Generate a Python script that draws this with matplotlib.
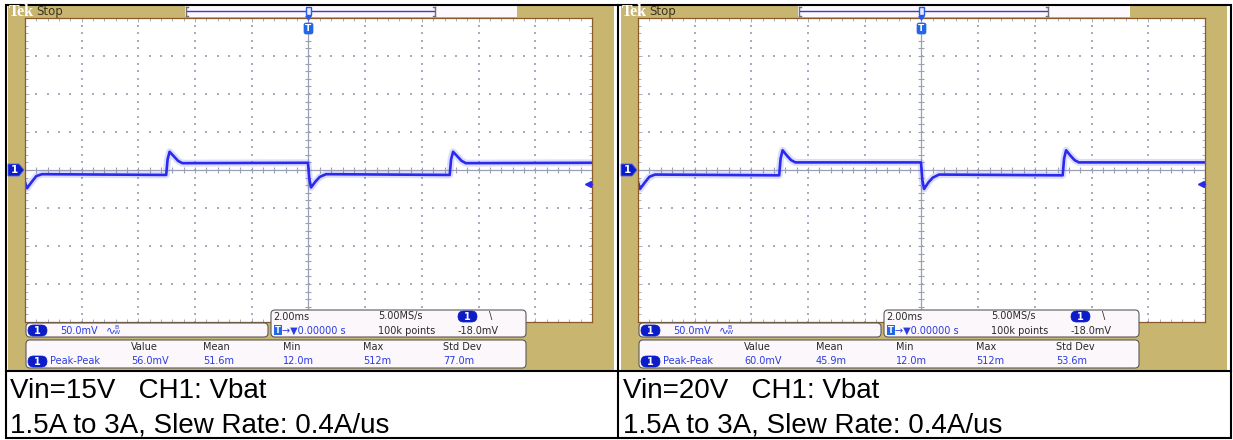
import matplotlib
matplotlib.use("Agg")
import matplotlib.pyplot as plt
from matplotlib.patches import Rectangle, FancyBboxPatch, Polygon
import numpy as np

# scope captures: CH1 Vbat, load step 1.5A <-> 3A, 2ms/div, 50mV/div
t_ms = [-10.0, -9.93, -9.75, -9.6, -9.4, -5.02, -4.97, -4.9, -4.75, -4.6, -4.45,
        -0.02, 0.03, 0.09, 0.25, 0.4, 0.62, 4.98, 5.03, 5.1, 5.25, 5.4, 5.55, 10.0]
vbat_15v = [-16, -24, -15, -8, -5.5, -6.5, 14, 24, 18, 12, 9, 9.5,
            -12, -23, -15, -9, -5.5, -6.5, 14, 24, 18, 12, 9, 9.5]
vbat_20v = [-16, -25, -16, -9, -6, -7, 15, 26, 19, 13, 10, 10,
            -13, -25, -16, -10, -6, -7, 15, 26, 19, 13, 10, 10]

captions_15v = ["Vin=15V   CH1: Vbat", "1.5A to 3A, Slew Rate: 0.4A/us"]
captions_20v = ["Vin=20V   CH1: Vbat", "1.5A to 3A, Slew Rate: 0.4A/us"]

meas_labels = ["Value", "Mean", "Min", "Max", "Std Dev"]
meas_15v = ["56.0mV", "51.6m", "12.0m", "512m", "77.0m"]
meas_20v = ["60.0mV", "45.9m", "12.0m", "512m", "53.6m"]

volts_div = "50.0mV"
time_div = "2.00ms"
sample_rate = "5.00MS/s"
rec_len = "100k points"
trig_pos = "0.00000 s"
trig_level = -18.0

W, H = 1233, 440
TAN = "#C8B570"
BLUE = "#2A2AEE"
DKBLUE = "#0C1CC8"
TXTBLUE = "#2A3CE0"
DARK = "#2A2A2A"
GRIDC = "#A8ACC0"
SCOPE_FONT = "DejaVu Sans"

fig = plt.figure(figsize=(W / 100, H / 100), dpi=100)

bg = fig.add_axes([0, 0, 1, 1], zorder=0)
bg.set_xlim(0, W)
bg.set_ylim(H, 0)
bg.axis("off")

fg = fig.add_axes([0, 0, 1, 1], zorder=3)
fg.set_xlim(0, W)
fg.set_ylim(H, 0)
fg.axis("off")
fg.patch.set_visible(False)


def to_px(ax, x, y):
    X, Y = ax.transData.transform((x, y))
    return X, H - Y


def rbox(x, y, w, h, r=4, fc="#FBF7FB", ec="#5A5A5A", lw=0.8):
    fg.add_patch(FancyBboxPatch((x, y), w, h, boxstyle=f"round,pad=0,rounding_size={r}",
                                fc=fc, ec=ec, lw=lw))


def oval1(x, yc):
    fg.add_patch(FancyBboxPatch((x, yc - 5.5), 19, 11, boxstyle="round,pad=0,rounding_size=5.5",
                                fc=DKBLUE, ec=DKBLUE, lw=0.5))
    fg.text(x + 9.5, yc + 0.5, "1", color="white", fontsize=7, fontweight="bold",
            ha="center", va="center", family=SCOPE_FONT)


def stxt(x, y, s, c=DARK, size=7):
    fg.text(x, y, s, color=c, fontsize=size, ha="left", va="center", family=SCOPE_FONT)


def panel(ox, vals, meas, caps):
    # tan frame and top status strip
    bg.add_patch(Rectangle((8 + ox, 6), 606, 364, fc=TAN, ec="none"))
    bg.add_patch(Rectangle((185 + ox, 6), 332, 11, fc="#FCF8FC", ec="none"))
    for bx, d in [(186, 1), (435, -1)]:
        bg.plot([bx + ox, bx + ox], [7, 16], color="#707070", lw=1)
        bg.plot([bx + ox, bx + ox + 2 * d], [7, 7], color="#707070", lw=1)
        bg.plot([bx + ox, bx + ox + 2 * d], [16, 16], color="#707070", lw=1)
    bg.plot([187 + ox, 434 + ox], [11.5, 11.5], color="#3A3AE0", lw=1)
    bg.text(9 + ox, 12.5, "Tek", color="white", fontsize=11.5, fontweight="bold",
            ha="left", va="center", family="Liberation Serif")
    bg.text(36 + ox, 12, "Stop", color="#3A3420", fontsize=8.5, ha="left", va="center",
            family=SCOPE_FONT)

    # graticule
    ax = fig.add_axes([(25 + ox) / W, 1 - 322 / H, 567 / W, 304 / H], zorder=1)
    ax.set_xlim(-10, 10)
    ax.set_ylim(-200, 200)
    ax.set_facecolor("white")
    for s in ax.spines.values():
        s.set_color("#8B5A2B")
        s.set_linewidth(0.9)
    ax.set_xticks(np.arange(-10, 11, 2))
    ax.set_yticks(np.arange(-200, 201, 50))
    ax.set_xticks(np.arange(-10, 10.01, 0.4), minor=True)
    ax.set_yticks(np.arange(-200, 201, 10), minor=True)
    ax.tick_params(which="both", direction="in", top=True, right=True, color=GRIDC,
                   labelbottom=False, labelleft=False, width=0.7)
    ax.tick_params(which="major", length=3)
    ax.tick_params(which="minor", length=2)

    xmin = np.arange(-10, 10.01, 0.4)
    ymin = np.arange(-200, 201, 10)
    for gx in np.arange(-8, 9, 2):
        if gx != 0:
            ax.scatter(np.full(len(ymin), gx), ymin, s=0.7, marker="s", color=GRIDC, lw=0)
    for gy in np.arange(-150, 151, 50):
        if gy != 0:
            ax.scatter(xmin, np.full(len(xmin), gy), s=0.7, marker="s", color=GRIDC, lw=0)
    ax.axhline(0, color="#9AA0B4", lw=0.9)
    ax.axvline(0, color="#9AA0B4", lw=0.9)
    ax.plot(xmin, np.zeros(len(xmin)), ls="none", marker="|", ms=4, mew=0.8, color="#9AA0B4")
    ax.plot(np.zeros(len(ymin)), ymin, ls="none", marker="_", ms=4, mew=0.8, color="#9AA0B4")

    # CH1 trace (noise band + core)
    ax.plot(t_ms, vals, color="#6060FF", lw=5.0, alpha=0.22, solid_joinstyle="round")
    ax.plot(t_ms, vals, color=BLUE, lw=1.9, solid_joinstyle="round")

    # channel ground marker
    gx0, gy0 = to_px(ax, -10, 0)
    fg.add_patch(Polygon([(ox + 8, gy0 - 6), (ox + 19, gy0 - 6), (gx0 - 1, gy0),
                          (ox + 19, gy0 + 6), (ox + 8, gy0 + 6)],
                         closed=True, fc=DKBLUE, ec="#5060E8", lw=0.6))
    fg.text(ox + 14, gy0 + 0.5, "1", color="white", fontsize=7.5, fontweight="bold",
            ha="center", va="center", family=SCOPE_FONT)

    # trigger level marker on right edge
    tx, ty = to_px(ax, 10, trig_level)
    fg.plot([tx - 5, tx], [ty, ty], color=BLUE, lw=1)
    fg.plot([tx - 4], [ty], marker="<", ms=5, color=BLUE, mec=BLUE)

    # trigger position marker at top
    px0, _ = to_px(ax, 0, 0)
    fg.add_patch(Rectangle((px0 - 2.5, 7), 5, 8, fc="#E8ECFF", ec="#2A5AE8", lw=1))
    fg.add_patch(Polygon([(px0 - 3.5, 16), (px0 + 3.5, 16), (px0, 21)], closed=True,
                         fc="#2A5AE8", ec="none"))
    fg.add_patch(FancyBboxPatch((px0 - 4.5, 23), 9, 11, boxstyle="round,pad=0,rounding_size=2",
                                fc="#2366E6", ec="#2366E6", lw=0.5))
    fg.text(px0, 28.8, "T", color="white", fontsize=6.5, fontweight="bold", ha="center",
            va="center", family=SCOPE_FONT)

    # readout boxes
    rbox(26 + ox, 323, 242, 14)
    rbox(271 + ox, 310, 255, 27)
    rbox(26 + ox, 340, 500, 28)

    oval1(28 + ox, 330.5)
    stxt(60 + ox, 330.5, volts_div, TXTBLUE)
    stxt(106 + ox, 330.5, "\u223f", TXTBLUE, 8)
    fg.text(114 + ox, 327.5, "B", color=TXTBLUE, fontsize=4.5, ha="left", va="center",
            family=SCOPE_FONT)
    fg.text(114 + ox, 332.5, "W", color=TXTBLUE, fontsize=4.5, ha="left", va="center",
            family=SCOPE_FONT)

    stxt(273 + ox, 316.5, time_div)
    stxt(378 + ox, 316.5, sample_rate)
    oval1(458 + ox, 316.5)
    stxt(489 + ox, 316.5, "\\")
    fg.add_patch(Rectangle((273.5 + ox, 325.5), 8, 10, fc="#2366E6", ec="none"))
    fg.text(277.5 + ox, 330.8, "T", color="white", fontsize=6, fontweight="bold",
            ha="center", va="center", family=SCOPE_FONT)
    stxt(282 + ox, 330.5, "\u2192\u25bc" + trig_pos, TXTBLUE)
    stxt(378 + ox, 330.5, rec_len)
    stxt(458 + ox, 330.5, f"{trig_level:.1f}mV")

    oval1(28 + ox, 361.5)
    stxt(50 + ox, 361.5, "Peak-Peak", TXTBLUE)
    for lx, lab, val in zip([131, 203, 283, 363, 443], meas_labels, meas):
        stxt(lx + ox, 347.5, lab)
        stxt(lx + ox, 361.5, val, TXTBLUE)

    # captions
    bg.text(10 + ox, 398, caps[0], fontsize=20, family="Liberation Sans", va="baseline",
            ha="left", color="black")
    bg.text(10 + ox, 432, caps[1], fontsize=20, family="Liberation Sans", va="baseline",
            ha="left", color="black")


panel(0, vbat_15v, meas_15v, captions_15v)
panel(613, vbat_20v, meas_20v, captions_20v)

# table frame
bg.add_patch(Rectangle((6, 5), 1225, 433, fc="none", ec="black", lw=1.5))
bg.plot([618, 618], [5, 438], color="black", lw=1.5)
bg.plot([6, 1231], [371, 371], color="black", lw=1.5)

fig.savefig("out.png", dpi=100)
